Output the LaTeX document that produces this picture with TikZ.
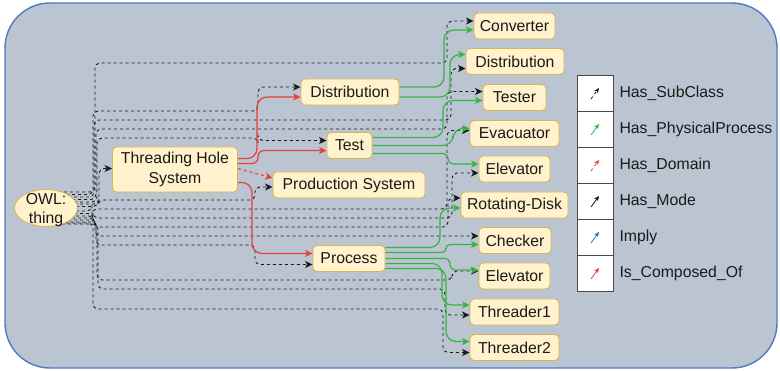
\documentclass[tikz,border=0pt]{standalone}
\usepackage{fontspec}
\setmainfont{Liberation Sans}
\usetikzlibrary{arrows.meta,calc,shapes.geometric}

\definecolor{panel}{HTML}{BAC5D1}
\definecolor{panelline}{HTML}{4F7BC0}
\definecolor{boxfill}{HTML}{FFF2CC}
\definecolor{boxline}{HTML}{D6B656}
\definecolor{pgreen}{HTML}{36B545}
\definecolor{cred}{HTML}{E8403A}
\definecolor{ink}{HTML}{1A1A1A}
\definecolor{implyblue}{HTML}{3B6FC2}

\pgfdeclarelayer{back}
\pgfdeclarelayer{wires}
\pgfsetlayers{back,wires,main}

\begin{document}
\begin{tikzpicture}[x=1pt,y=-1pt,
  font=\fontsize{15.8}{19.5}\selectfont,
  concept/.style={draw=boxline, fill=boxfill, rounded corners=4pt, line width=0.9pt,
                  minimum height=26pt, inner sep=0pt, align=center, text=ink},
  tip/.style={-{Stealth[length=7.5pt,width=7pt,inset=2pt]}},
  smalltip/.style={-{Stealth[length=5pt,width=4.5pt,inset=1.5pt]}},
  dashline/.style={dash pattern=on 3pt off 3pt},
  subclass/.style={tip, draw=ink, line width=0.9pt, dashline, rounded corners=5pt},
  physical/.style={tip, draw=pgreen, line width=1.2pt, rounded corners=10pt},
  composed/.style={tip, draw=cred, line width=1.2pt, rounded corners=10pt},
  domainlink/.style={tip, draw=cred, line width=1.1pt, dashline},
  keycell/.style={draw=ink!80, fill=white, line width=0.7pt, minimum width=36pt,
                  minimum height=36pt, inner sep=0pt},
  keytext/.style={anchor=west, text=ink, inner sep=0pt},
]
\path[use as bounding box] (0,0) rectangle (780,371);

% panel
\begin{pgfonlayer}{back}
  \fill[white] (0,0) rectangle (780,371);
  \draw[panelline, fill=panel, line width=1.4pt, rounded corners=45pt] (5,3) rectangle (777,368);
\end{pgfonlayer}

% root concept
\node[concept, ellipse, minimum width=63pt, minimum height=37pt] (owl) at (46,208) {};
\node[text=ink, align=center, inner sep=0pt] (owltext) at (46,210) {OWL:\\thing};

% middle concepts
\node[concept, minimum width=125pt, minimum height=45pt] (ths) at (175,169.5) {Threading Hole\\System};
\node[concept, minimum width=98pt]  (dmid) at (350,92)    {Distribution};
\node[concept, minimum width=45pt]  (test) at (349.5,145.5) {Test};
\node[concept, minimum width=152pt] (prod) at (349,185)   {Production System};
\node[concept, minimum width=72pt]  (proc) at (349,258.5) {Process};

% leaf concepts
\node[concept, minimum width=81pt]  (conv)   at (514.5,26)   {Converter};
\node[concept, minimum width=98pt]  (dright) at (515,61.5)   {Distribution};
\node[concept, minimum width=63pt]  (tester) at (514.5,97.5) {Tester};
\node[concept, minimum width=89pt]  (evac)   at (514.5,133.5){Evacuator};
\node[concept, minimum width=71pt]  (elevA)  at (514.5,169)  {Elevator};
\node[concept, minimum width=107pt] (disk)   at (514.5,205)  {Rotating-Disk};
\node[concept, minimum width=72pt]  (check)  at (515,240.5)  {Checker};
\node[concept, minimum width=71pt]  (elevB)  at (514.5,276)  {Elevator};
\node[concept, minimum width=89pt]  (thrA)   at (514.5,312)  {Threader1};
\node[concept, minimum width=89pt]  (thrB)   at (514.5,347.5){Threader2};

% legend
\foreach \i/\nm in {0/kA,1/kB,2/kC,3/kD,4/kE,5/kF}
  \node[keycell] (\nm) at (595,93+36*\i) {};
\draw[smalltip, draw=ink, line width=0.8pt, dashline] ($(kA.center)+(-4,6)$) -- ($(kA.center)+(4,-5)$);
\draw[smalltip, draw=pgreen, line width=0.8pt] ($(kB.center)+(-4,6)$) -- ($(kB.center)+(4,-5)$);
\draw[smalltip, draw=cred, line width=0.8pt, dashline] ($(kC.center)+(-4,6)$) -- ($(kC.center)+(4,-5)$);
\draw[smalltip, draw=ink, line width=0.8pt] ($(kD.center)+(-4,6)$) -- ($(kD.center)+(4,-5)$);
\draw[smalltip, draw=implyblue, line width=0.8pt] ($(kE.center)+(-4,6)$) -- ($(kE.center)+(4,-5)$);
\draw[smalltip, draw=cred, line width=0.8pt] ($(kF.center)+(-4,6)$) -- ($(kF.center)+(4,-5)$);
\node[keytext] (tA) at ($(kA.east)+(6,0)$) {Has\_SubClass};
\node[keytext] (tB) at ($(kB.east)+(6,0)$) {Has\_PhysicalProcess};
\node[keytext] (tC) at ($(kC.east)+(6,0)$) {Has\_Domain};
\node[keytext] (tD) at ($(kD.east)+(6,0)$) {Has\_Mode};
\node[keytext] (tE) at ($(kE.east)+(6,0)$) {Imply};
\node[keytext] (tF) at ($(kF.east)+(6,0)$) {Is\_Composed\_Of};

\begin{pgfonlayer}{wires}
% subclass links from the root
\draw[subclass] ($(owl.center)+(12,-16)$) -| (95,63)  -- (447,63)  |- ([yshift=5pt]conv.west);
\draw[subclass] ($(owl.center)+(14,-13.5)$) -| (93,111) -- (258,111) |- ([yshift=5pt]dmid.west);
\draw[subclass] ($(owl.center)+(16,-11)$) -| (94,120) -- (451,120) |- ([yshift=-7pt]dright.west);
\draw[subclass] ($(owl.center)+(14,-8.5)$)  -| (96,129) -- (447,129) |- ([yshift=6pt]tester.west);
\draw[subclass] ($(owl.center)+(16,-6)$)  -| (97,138) -- (258,138) |- ([yshift=5pt]test.west);
\draw[subclass] ($(owl.center)+(16,-4)$)  -- (99,204) |- ([yshift=1pt]ths.west);
\draw[subclass] ($(owl.center)+(18,-1.5)$)  -| (98,200) -- (255,200) |- ([yshift=-2pt]prod.west);
\draw[subclass] ($(owl.center)+(18,3)$)   -| (92,209) -- (447,209) |- ([yshift=3pt]evac.west);
\draw[subclass] ($(owl.center)+(16,5.5)$)   -| (93,218) -- (452,218) |- ([yshift=-4pt]elevA.west);
\draw[subclass] ($(owl.center)+(18,8)$)   -| (94,227) -- (448,227) |- ([yshift=7pt]disk.west);
\draw[subclass] ($(owl.center)+(14,10)$)   -| (95,236) -- ([yshift=4.5pt]check.west);
\draw[subclass] ($(owl.center)+(16,12)$)  -| (96,245) -- (255,245) |- ([yshift=-6pt]proc.west);
\draw[subclass] ($(owl.center)+(12,14)$)  -| (97,280) -- (452,280) |- ([yshift=5pt]elevB.west);
\draw[subclass] ($(owl.center)+(10,16)$)-| (98,289) -- (445,289) |- ([yshift=-3pt]thrA.west);
\draw[subclass] ($(owl.center)+(14,15)$)  -| (93,309) -- (443,309) |- ([yshift=-5pt]thrB.west);

% composition and domain links
\draw[composed] ([yshift=11pt]ths.east) -- (257,158.5) |- ([yshift=-5pt]dmid.west);
\draw[composed, rounded corners=6pt] ([yshift=6pt]ths.east) -- (258,163.5) |- ([yshift=-5pt]test.west);
\draw[domainlink] ([yshift=1pt]ths.east) -- ([yshift=7pt]prod.west);
\draw[composed] ([yshift=-13pt]ths.east) -- (252,182.5) |- ([yshift=5pt]proc.west);

% physical process links
\draw[physical] ([yshift=5pt]dmid.east)  -- (444,87)  |- ([yshift=-4pt]conv.west);
\draw[physical] ([yshift=-5pt]dmid.east) -- (450,97)  |- ([yshift=7pt]dright.west);
\draw[physical] ([yshift=8pt]test.east)  -- (443,137.5) |- ([yshift=-3pt]tester.west);
\draw[physical] (test.east)              -- (453,145.5) |- ([yshift=5pt]evac.west);
\draw[physical, rounded corners=5pt] ([yshift=-8pt]test.east) -- (448,153.5) |- ([yshift=5pt]elevA.west);
\draw[physical] ([yshift=11pt]proc.east) -- (440,247.5) |- ([yshift=-3pt]disk.west);
\draw[physical, rounded corners=4pt] ([yshift=6pt]proc.east) -- (446,252.5) |- ([yshift=-4pt]check.west);
\draw[physical, rounded corners=5pt] (proc.east) -- (450,258.5) |- ([yshift=6pt]elevB.west);
\draw[physical] ([yshift=-5pt]proc.east)  -- (442,263.5) |- ([yshift=7pt]thrA.west);
\draw[physical] ([yshift=-10pt]proc.east) -- (446,268.5) |- ([yshift=6pt]thrB.west);
\end{pgfonlayer}
\end{tikzpicture}
\end{document}
